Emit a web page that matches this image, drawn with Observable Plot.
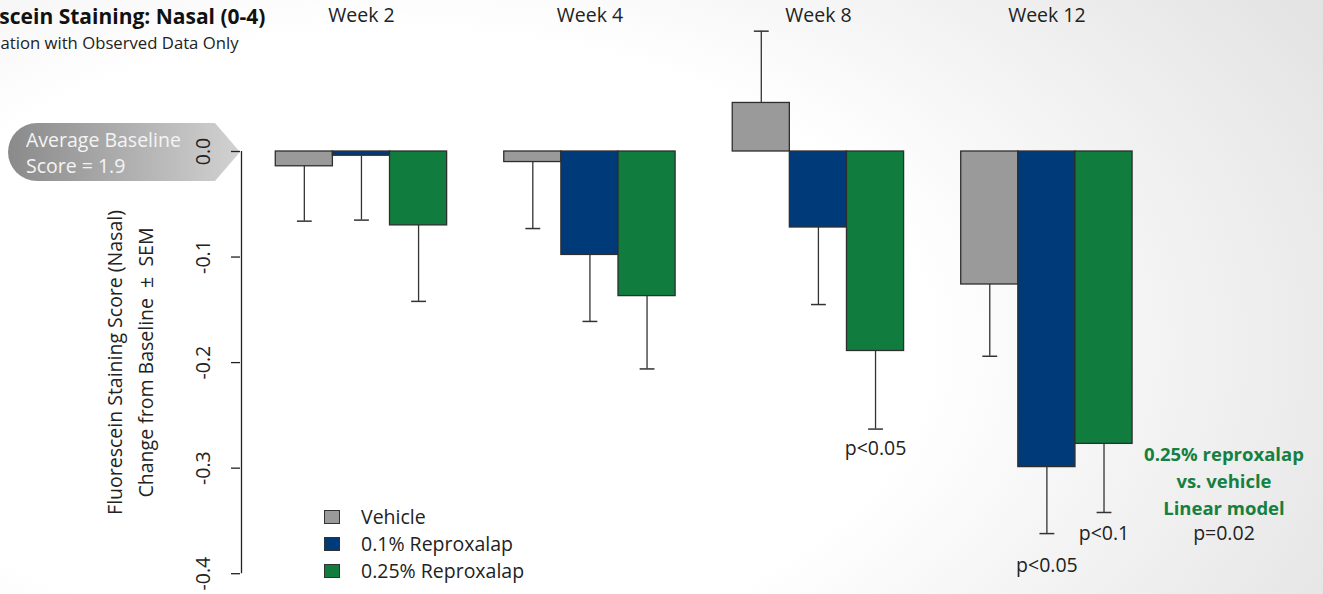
<!DOCTYPE html>
<html>
<head>
<meta charset="utf-8">
<script src="https://cdn.jsdelivr.net/npm/d3@7"></script>
<script src="https://cdn.jsdelivr.net/npm/@observablehq/plot@0.6"></script>
<style>
  html, body { margin: 0; padding: 0; }
  #wrap {
    position: relative; width: 1323px; height: 594px; overflow: hidden;
    font-family: "Open Sans", sans-serif; color: #222;
    background: radial-gradient(ellipse 80% 105% at 30% 58%, #ffffff 0%, #ffffff 50%, #f3f3f3 72%, #e4e4e4 100%);
  }
  #badge { position: absolute; left: 0; top: 0; }
  #chart { position: absolute; left: 0; top: 0; }
  #legend { position: absolute; left: 324px; top: 503px; font-size: 19.5px; line-height: 27px; }
  #legend .row { display: flex; align-items: center; height: 27px; }
  #legend .sw { width: 14px; height: 12px; border: 1.6px solid #333; margin-right: 21px; }
</style>
</head>
<body>
<div id="wrap">
  <svg id="badge" width="260" height="200">
    <defs>
      <linearGradient id="bg" x1="0" x2="1" y1="0" y2="0">
        <stop offset="0" stop-color="#8a8a8a"/>
        <stop offset="1" stop-color="#d2d2d2"/>
      </linearGradient>
    </defs>
    <path d="M37,123 L215,123 L240,152 L215,181 L37,181 A29,29 0 0 1 37,123 Z" fill="url(#bg)"/>
    <text x="26" y="146.5" fill="#f4f4f4" font-family="Open Sans" font-size="19.5">Average Baseline</text>
    <text x="26" y="173" fill="#f4f4f4" font-family="Open Sans" font-size="19.5">Score = 1.9</text>
  </svg>
  <div id="chart"></div>
  <div id="legend"></div>
</div>
<script>
// ---- data ----
const weeks = ["Week 2", "Week 4", "Week 8", "Week 12"];
const series = ["Vehicle", "0.1% Reproxalap", "0.25% Reproxalap"];
const vehicle     = [-0.014, -0.010,  0.046, -0.126];
const vehicleSem  = [ 0.052,  0.063,  0.068,  0.068];
const low         = [-0.004, -0.098, -0.072, -0.299];
const lowSem      = [ 0.061,  0.063,  0.073,  0.063];
const high        = [-0.070, -0.137, -0.189, -0.277];
const highSem     = [ 0.072,  0.069,  0.074,  0.065];
const yTicks = [0, -0.1, -0.2, -0.3, -0.4];
const pLabels = [
  {week: "Week 8",  series: "0.25% Reproxalap", text: "p<0.05"},
  {week: "Week 12", series: "0.1% Reproxalap",  text: "p<0.05"},
  {week: "Week 12", series: "0.25% Reproxalap", text: "p<0.1"}
];
const noteLines = ["0.25% reproxalap", "vs. vehicle", "Linear model"];
const notePValue = "p=0.02";
const title = "Fluorescein Staining: Nasal (0-4)";
const subtitle = "Population with Observed Data Only";
const yTitle = "Fluorescein Staining Score (Nasal)\nChange from Baseline \u00a0\u00b1\u00a0 SEM";

// ---- styling ----
const colors = ["#9a9a9a", "#003a78", "#107c3e"];
const noteGreen = "#15803f";

// ---- build table ----
const valuesBySeries = [vehicle, low, high];
const semBySeries = [vehicleSem, lowSem, highSem];
const rows = [];
weeks.forEach((w, wi) => series.forEach((s, si) => {
  const v = valuesBySeries[si][wi], e = semBySeries[si][wi];
  rows.push({week: w, series: s, value: v, sem: e, u: wi * 4 + 1 + si,
             end: v + (v >= 0 ? e : -e)});
}));
const find = (w, s) => rows.find(r => r.week === w && r.series === s);
const pRows = pLabels.map(p => ({...find(p.week, p.series), text: p.text}));
const pOffsets = [19.5, 32, 21];
const noteAnchor = find("Week 12", "0.25% Reproxalap");

const unit = 57.12, x0 = 241;
const cap = 0.13;

const chart = Plot.plot({
  width: 1323, height: 594,
  marginLeft: 240, marginTop: 0, marginRight: 0, marginBottom: 0,
  x: {type: "linear", domain: [0.4, 16.6], range: [x0, x0 + 16.2 * unit], axis: null},
  y: {type: "linear", domain: [0, -0.4], range: [151, 573.2], axis: null},
  color: {domain: series, range: colors},
  style: {background: "transparent", fontFamily: "Open Sans", fontSize: "19.5px", color: "#222", overflow: "visible"},
  marks: [
    Plot.ruleX([0.4], {x: d => d, y1: () => d3.max(yTicks), y2: () => d3.min(yTicks), stroke: "#222", strokeWidth: 1.3}),
    Plot.axisY({ticks: yTicks, anchor: "left", tickSize: 9, tickPadding: 22, tickRotate: -90,
      tickFormat: d => d.toFixed(1), label: null, color: "#222", strokeWidth: 1.3}),
    Plot.rect(rows, {x1: d => d.u, x2: d => d.u + 1, y1: () => 0, y2: "value", fill: "series",
      stroke: "#2e2e2e", strokeWidth: 1.3}),
    Plot.ruleX(rows, {x: d => d.u + 0.5, y1: "value", y2: "end", stroke: "#333", strokeWidth: 1.3}),
    Plot.link(rows, {x1: d => d.u + 0.5 - cap, x2: d => d.u + 0.5 + cap, y1: "end", y2: "end",
      stroke: "#333", strokeWidth: 1.5}),
    Plot.text(weeks, {x: (d, i) => i * 4 + 2.5, frameAnchor: "top", lineAnchor: "middle", dy: 15.5, text: d => d, fill: "#222"}),
    ...pRows.map((p, i) => Plot.text([p], {x: d => d.u + 0.5, y: "end", dy: pOffsets[i], text: "text", fill: "#222"})),
    Plot.text([noteLines.join("\n")], {x: () => noteAnchor.u + 2.6, y: () => noteAnchor.value, dy: 35.8,
      text: d => d, lineHeight: 1.46, fontSize: 18.5, fontWeight: "bold", fill: noteGreen}),
    Plot.text([notePValue], {x: () => noteAnchor.u + 2.6, y: () => noteAnchor.value, dy: 89.8, text: d => d, fill: "#222"}),
    Plot.text([yTitle], {frameAnchor: "left", textAnchor: "middle", lineAnchor: "middle", rotate: -90,
      dx: -112.5, dy: 65, text: d => d, lineHeight: 1.59, fill: "#222"}),
    Plot.text([title], {frameAnchor: "top-left", lineAnchor: "middle", dx: 25, dy: 16.5, textAnchor: "end", text: d => d,
      fontWeight: "bold", fontSize: 21, fill: "#111"}),
    Plot.text([subtitle], {frameAnchor: "top-left", lineAnchor: "middle", dx: -2, dy: 43, textAnchor: "end", text: d => d,
      fontSize: 16.7, fill: "#222"})
  ]
});
document.getElementById("chart").appendChild(chart);

// legend
const legend = document.getElementById("legend");
series.forEach((s, i) => {
  const row = document.createElement("div");
  row.className = "row";
  const sw = document.createElement("div");
  sw.className = "sw";
  sw.style.background = colors[i];
  const t = document.createElement("span");
  t.textContent = s;
  row.appendChild(sw); row.appendChild(t);
  legend.appendChild(row);
});
</script>
</body>
</html>
